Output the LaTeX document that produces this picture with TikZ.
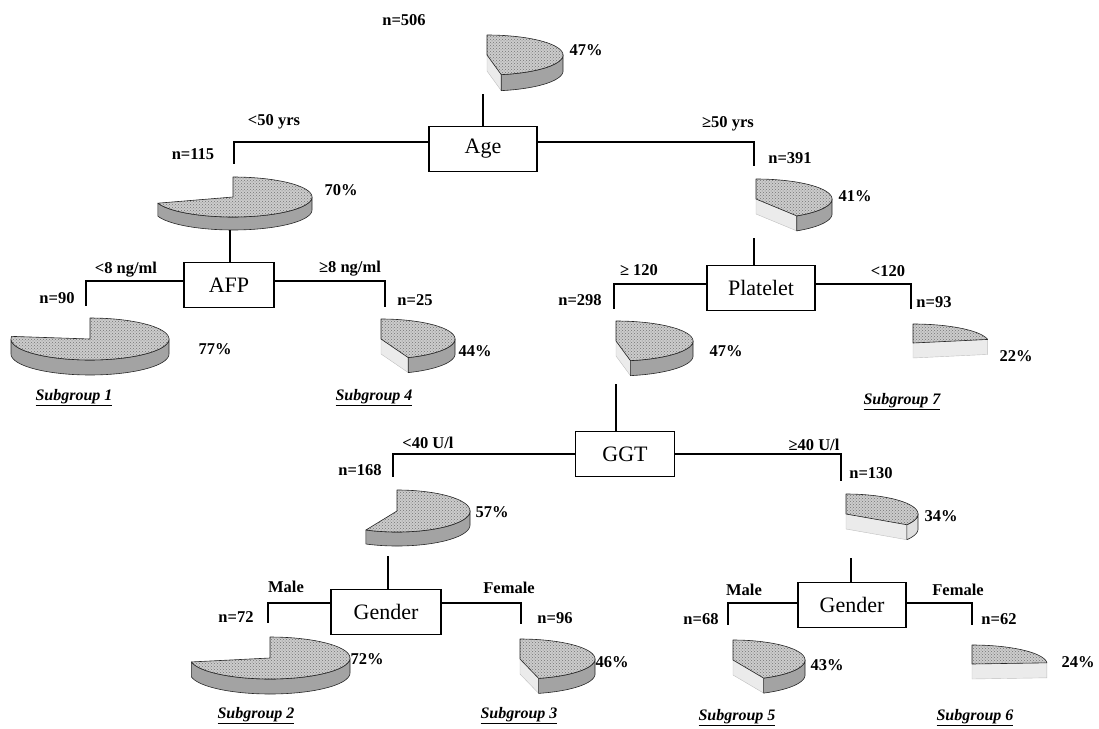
\documentclass[tikz,border=0pt]{standalone}
\usepackage{fontspec}
\setmainfont{Liberation Serif}
\usetikzlibrary{patterns}
\begin{document}
\newcommand\pieD[7]{%
\pgfmathsetmacro\pS{90-3.6*#6}%
\pgfmathsetmacro\pA{max(\pS,-180)}%
\pgfmathsetmacro\pC{cos(\pS)}%
\ifdim\pC pt>0pt
 \filldraw[piecut] ({#1},{#2}) -- ({#1+#3*cos(\pS)},{#2-#4*sin(\pS)}) -- ++(0,#5) -- ({#1},{#2+#5}) -- cycle;
\fi
\ifdim\pA pt<0pt
 \filldraw[pieside,fill=#7] plot[domain=\pA:0,samples=40] ({#1+#3*cos(\x)},{#2-#4*sin(\x)}) -- plot[domain=0:\pA,samples=40] ({#1+#3*cos(\x)},{#2+#5-#4*sin(\x)}) -- cycle;
\fi
\filldraw[pietop] ({#1},{#2}) -- plot[domain=\pS:90,samples=60] ({#1+#3*cos(\x)},{#2-#4*sin(\x)}) -- cycle;
}
\begin{tikzpicture}[x=1pt,y=-1pt,
  lab/.style={font=\fontsize{16.5}{18}\selectfont\bfseries, inner sep=0pt},
  sub/.style={font=\fontsize{16}{18}\selectfont\bfseries\itshape, inner sep=0pt},
  box/.style={draw, line width=1.1pt, minimum height=45pt, inner sep=2pt, font=\fontsize{22}{25}\selectfont},
  conn/.style={line width=1.3pt},
  pietop/.style={preaction={fill=gray!40}, pattern=crosshatch dots, pattern color=black!55, draw=black!85, line width=0.6pt, line join=round},
  pieside/.style={draw=black!85, line width=0.6pt, line join=round},
  piecut/.style={fill=gray!16, draw=gray!50, line width=0.4pt}]
\useasboundingbox (0,0) rectangle (1099,728);

% ---- boxes
\node[box, minimum width=108pt] (age)  at (483,149) {Age};
\node[box, minimum width=90pt]  (afp)  at (229,285) {AFP};
\node[box, minimum width=108pt] (plat) at (761,288) {Platelet};
\node[box, minimum width=99pt]  (ggt)  at (625,454) {GGT};
\node[box, minimum width=110pt] (genL) at (386,612) {Gender};
\node[box, minimum width=108pt] (genR) at (852,605) {Gender};

% ---- pies
\pieD{487}{55}{76}{20}{16}{47}{gray!72}
\pieD{233}{197}{79}{20}{13}{70}{gray!72}
\pieD{756}{199}{76}{20}{15}{41}{gray!72}
\pieD{90}{339}{79}{21}{15}{77}{gray!72}
\pieD{381}{339}{74}{20}{15}{44}{gray!72}
\pieD{616}{341}{77}{20}{15}{47}{gray!72}
\pieD{913}{343}{76}{19}{15}{22}{gray!72}
\pieD{397}{511}{73}{21}{14}{57}{gray!72}
\pieD{846}{514}{72}{20}{15}{34}{gray!25}
\pieD{270}{658}{80}{21}{15}{72}{gray!72}
\pieD{520}{659}{75}{20}{15}{46}{gray!72}
\pieD{733}{660}{72}{20}{15}{43}{gray!72}
\pieD{972}{664}{75}{19}{15}{24}{gray!72}

% ---- connector end points
\coordinate (pA) at (483,94);
\coordinate (pB) at (230,230);
\coordinate (pE) at (754,238);
\coordinate (pF) at (616,384);
\coordinate (pH) at (388,556);
\coordinate (pI) at (851,558);
\coordinate (c115) at (234,164);
\coordinate (c391) at (754,166);
\coordinate (c90)  at (86,306);
\coordinate (c25)  at (385,307);
\coordinate (c298) at (614,309);
\coordinate (c93)  at (911,309);
\coordinate (c168) at (393,477);
\coordinate (c130) at (841,481);
\coordinate (c72)  at (268,623);
\coordinate (c96)  at (521,624);
\coordinate (c68)  at (728,625);
\coordinate (c62)  at (972,625);

% ---- connectors
\draw[conn] (pA) -- (pA |- age.north);
\draw[conn] ([yshift=7pt]age.west) -| (c115);
\draw[conn] ([yshift=7pt]age.east) -| (c391);
\draw[conn] (pB) -- (pB |- afp.north);
\draw[conn] ([yshift=4pt]afp.west) -| (c90);
\draw[conn] ([yshift=4pt]afp.east) -| (c25);
\draw[conn] (pE) -- (pE |- plat.north);
\draw[conn] ([yshift=4pt]plat.west) -| (c298);
\draw[conn] ([yshift=4pt]plat.east) -| (c93);
\draw[conn] (pF) -- (pF |- ggt.north);
\draw[conn] (ggt.west) -| (c168);
\draw[conn] (ggt.east) -| (c130);
\draw[conn] (pH) -- (pH |- genL.north);
\draw[conn] ([yshift=9pt]genL.west) -| (c72);
\draw[conn] ([yshift=9pt]genL.east) -| (c96);
\draw[conn] (pI) -- (pI |- genR.north);
\draw[conn] ([yshift=2pt]genR.west) -| (c68);
\draw[conn] ([yshift=2pt]genR.east) -| (c62);

% ---- labels
\node[lab] (l506) at (404,20) {n=506};
\node[lab] (q47a) at (586,50) {47\%};
\node[lab] (l50a) at (274,122) {<50 yrs};
\node[lab] (l50b) at (728,124) {≥50 yrs};
\node[lab] (l115) at (193,154) {n=115};
\node[lab] (l391) at (790,158) {n=391};
\node[lab] (q70)  at (341,190) {70\%};
\node[lab] (q41)  at (855,196) {41\%};
\node[lab] (l8a)  at (126,270) {<8 ng/ml};
\node[lab] (l8b)  at (350,269) {≥8 ng/ml};
\node[lab] (l120a) at (639,270) {≥ 120};
\node[lab] (l120b) at (888,271) {<120};
\node[lab] (l90)  at (57,298) {n=90};
\node[lab] (l25)  at (415,300) {n=25};
\node[lab] (l298) at (580,300) {n=298};
\node[lab] (l93)  at (934,302) {n=93};
\node[lab] (q77)  at (215,349) {77\%};
\node[lab] (q44)  at (475,351) {44\%};
\node[lab] (q47b) at (726,351) {47\%};
\node[lab] (q22)  at (1016,356) {22\%};
\node[sub] (s1) at (74,398) {\underline{Subgroup 1}};
\node[sub] (s4) at (374,398) {\underline{Subgroup 4}};
\node[sub] (s7) at (902,402) {\underline{Subgroup 7}};
\node[lab] (l40a) at (428,443) {<40 U/l};
\node[lab] (l40b) at (814,445) {≥40 U/l};
\node[lab] (l168) at (360,470) {n=168};
\node[lab] (l130) at (871,473) {n=130};
\node[lab] (q57)  at (492,512) {57\%};
\node[lab] (q34)  at (941,516) {34\%};
\node[lab] (mL)   at (286,587) {Male};
\node[lab] (fL)   at (509,588) {Female};
\node[lab] (mR)   at (744,590) {Male};
\node[lab] (fR)   at (958,590) {Female};
\node[lab] (l72)  at (236,617) {n=72};
\node[lab] (l96)  at (555,618) {n=96};
\node[lab] (l68)  at (701,619) {n=68};
\node[lab] (l62)  at (999,619) {n=62};
\node[lab] (q72)  at (367,659) {72\%};
\node[lab] (q46)  at (612,662) {46\%};
\node[lab] (q43)  at (827,665) {43\%};
\node[lab] (q24)  at (1078,662) {24\%};
\node[sub] (s2) at (256,716) {\underline{Subgroup 2}};
\node[sub] (s3) at (519,716) {\underline{Subgroup 3}};
\node[sub] (s5) at (737,718) {\underline{Subgroup 5}};
\node[sub] (s6) at (975,718) {\underline{Subgroup 6}};
\end{tikzpicture}
\end{document}
